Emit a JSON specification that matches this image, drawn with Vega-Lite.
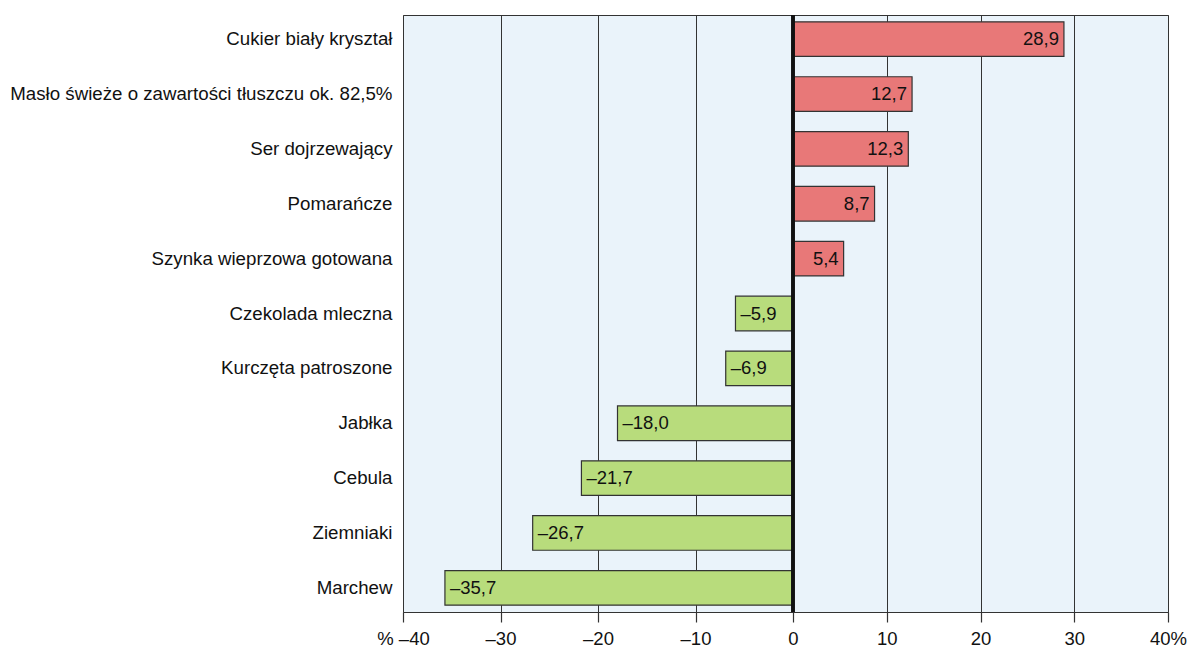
{
  "$schema": "https://vega.github.io/schema/vega-lite/v6.json",
  "width": 765,
  "height": 597,
  "autosize": {"type": "none"},
  "padding": {"left": 403, "top": 15, "right": 27, "bottom": 40},
  "background": "white",
  "config": {
    "font": "Liberation Sans",
    "view": {"fill": "#EAF3FA", "stroke": "#333333", "strokeWidth": 1}
  },
  "data": {
    "values": [
      {"product": "Cukier biały kryształ", "v": 28.9},
      {"product": "Masło świeże o zawartości tłuszczu ok. 82,5%", "v": 12.7},
      {"product": "Ser dojrzewający", "v": 12.3},
      {"product": "Pomarańcze", "v": 8.7},
      {"product": "Szynka wieprzowa gotowana", "v": 5.4},
      {"product": "Czekolada mleczna", "v": -5.9},
      {"product": "Kurczęta patroszone", "v": -6.9},
      {"product": "Jabłka", "v": -18.0},
      {"product": "Cebula", "v": -21.7},
      {"product": "Ziemniaki", "v": -26.7},
      {"product": "Marchew", "v": -35.7}
    ]
  },
  "transform": [
    {"calculate": "(datum.v < 0 ? '–' : '') + replace(format(abs(datum.v), '.1f'), '.', ',')", "as": "label"}
  ],
  "encoding": {
    "y": {
      "field": "product",
      "type": "nominal",
      "sort": null,
      "scale": {"paddingInner": 0.37, "paddingOuter": 0.125},
      "axis": {
        "title": null,
        "ticks": false,
        "domain": false,
        "labelPadding": 11,
        "labelFontSize": 18.7,
        "labelColor": "#111111",
        "labelLimit": 420
      }
    }
  },
  "layer": [
    {
      "mark": {"type": "bar", "stroke": "#333333", "strokeWidth": 1.2},
      "encoding": {
        "x": {
          "field": "v",
          "type": "quantitative",
          "scale": {"domain": [-40, 0, 40], "range": [0, 390, 765], "nice": false},
          "axis": {
            "title": null,
            "values": [-40, -30, -20, -10, 0, 10, 20, 30, 40],
            "grid": true,
            "gridColor": "#333333",
            "gridWidth": 1,
            "gridOpacity": 1,
            "domain": false,
            "ticks": true,
            "tickSize": 10,
            "tickColor": "#333333",
            "tickWidth": 1.2,
            "labelFontSize": 18.5,
            "labelColor": "#111111",
            "labelPadding": 7,
            "labelFlush": false,
            "labelExpr": "datum.value == -40 ? '% –40' : datum.value == 40 ? '40%' : (datum.value < 0 ? '–' : '') + abs(datum.value)"
          }
        },
        "color": {
          "condition": {"test": "datum.v >= 0", "value": "#E87878"},
          "value": "#B8DC7C"
        }
      }
    },
    {
      "mark": {"type": "rule", "color": "#111111", "strokeWidth": 2.5},
      "encoding": {"x": {"datum": 0}, "y": {"value": 0}, "y2": {"value": 597}}
    },
    {
      "transform": [{"filter": "datum.v >= 0"}],
      "mark": {"type": "text", "align": "right", "dx": -5, "fontSize": 18.5, "color": "#111111"},
      "encoding": {
        "x": {"field": "v", "type": "quantitative"},
        "text": {"field": "label"}
      }
    },
    {
      "transform": [{"filter": "datum.v < 0"}],
      "mark": {"type": "text", "align": "left", "dx": 5, "fontSize": 18.5, "color": "#111111"},
      "encoding": {
        "x": {"field": "v", "type": "quantitative"},
        "text": {"field": "label"}
      }
    }
  ]
}
